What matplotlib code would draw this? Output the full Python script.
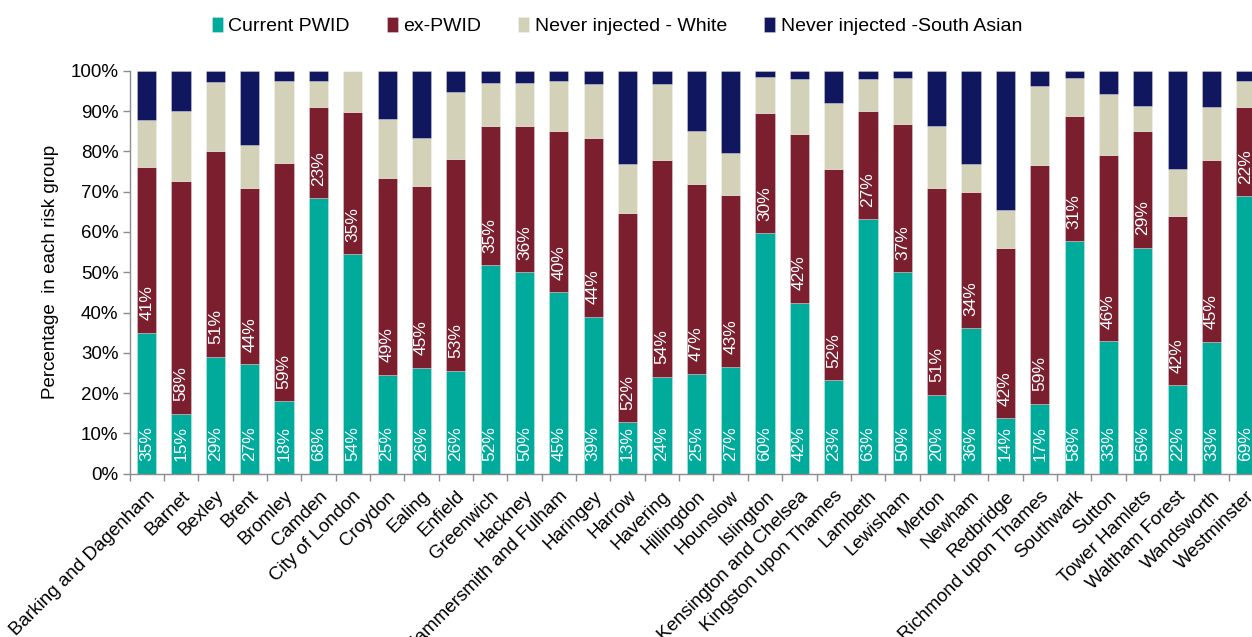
import matplotlib
matplotlib.use("Agg")
import matplotlib.pyplot as plt
import numpy as np

boroughs = ["Barking and Dagenham", "Barnet", "Bexley", "Brent", "Bromley", "Camden",
            "City of London", "Croydon", "Ealing", "Enfield", "Greenwich", "Hackney",
            "Hammersmith and Fulham", "Haringey", "Harrow", "Havering", "Hillingdon",
            "Hounslow", "Islington", "Kensington and Chelsea", "Kingston upon Thames",
            "Lambeth", "Lewisham", "Merton", "Newham", "Redbridge", "Richmond upon Thames",
            "Southwark", "Sutton", "Tower Hamlets", "Waltham Forest", "Wandsworth", "Westminster"]

current_pwid = [35, 14.9, 29, 27.2, 18, 68.4, 54.4, 24.6, 26.3, 25.6, 51.7, 50, 45, 39, 12.8,
                24, 24.8, 26.6, 59.7, 42.4, 23.2, 63.1, 50, 19.6, 36.1, 13.8, 17.4, 57.7,
                32.9, 56.1, 21.9, 32.8, 68.9]
ex_pwid = [41, 57.7, 51, 43.8, 59, 22.6, 35.3, 48.7, 45.2, 52.6, 34.6, 36.3, 40.1, 44.2, 51.9,
           53.9, 47.2, 42.6, 29.7, 41.9, 52.5, 26.9, 36.8, 51.4, 33.9, 42.2, 59.3, 31.1,
           46.3, 28.9, 42.1, 45, 22.1]
never_white = [11.8, 17.3, 17.3, 10.5, 20.4, 6.5, 10.3, 14.6, 11.7, 16.6, 10.6, 10.7, 12.3,
               13.6, 12.1, 18.7, 13, 10.3, 9, 13.6, 16.3, 8, 11.4, 15.4, 6.9, 9.4, 19.5, 9.4,
               15, 6.2, 11.7, 13.2, 6.5]
never_south_asian = [12.2, 10.1, 2.7, 18.5, 2.6, 2.5, 0, 12.1, 16.8, 5.2, 3.1, 3.0, 2.6, 3.2,
                     23.2, 3.4, 15, 20.5, 1.6, 2.1, 8.0, 2, 1.8, 13.6, 23.1, 34.6, 3.8, 1.8,
                     5.8, 8.8, 24.3, 9.0, 2.5]

series_names = ["Current PWID", "ex-PWID", "Never injected - White", "Never injected -South Asian"]
colors = ["#00AB9C", "#7B1F2E", "#D3D1B8", "#11175E"]

plt.rcParams['font.family'] = ['Liberation Sans', 'DejaVu Sans']

data = np.array([current_pwid, ex_pwid, never_white, never_south_asian], dtype=float)
data = data / data.sum(axis=0) * 100.0

fig = plt.figure(figsize=(12.52, 6.37), dpi=100)
W, H = 1252, 637
left_px, right_px = 129.5, 129.5 + 33 * 34.35
top_px, bot_px = 70.7, 473.7
ax = fig.add_axes([left_px / W, 1 - bot_px / H, (right_px - left_px) / W, (bot_px - top_px) / H])

x = np.arange(len(boroughs))
bottom = np.zeros(len(boroughs))
bars = []
for vals, name, c in zip(data, series_names, colors):
    b = ax.bar(x, vals, 0.56, bottom=bottom, color=c, label=name,
               edgecolor=(1, 1, 1, 0.5), linewidth=0.4)
    bars.append(b)
    bottom = bottom + vals

# data labels for current and ex PWID (inside base)
for i in range(len(boroughs)):
    ax.annotate(f"{current_pwid[i]:.0f}%", (x[i], 0), xytext=(0, 9), textcoords="offset points",
                rotation=90, ha="center", va="bottom", color="white", fontsize=12.5)
    ax.annotate(f"{ex_pwid[i]:.0f}%", (x[i], data[0][i]), xytext=(0, 9), textcoords="offset points",
                rotation=90, ha="center", va="bottom", color="white", fontsize=12.5)

ax.set_xlim(-0.5, len(boroughs) - 0.5)
ax.set_ylim(0, 100)
ax.set_yticks(np.arange(0, 101, 10))
ax.set_yticklabels([f"{v}%" for v in range(0, 101, 10)], fontsize=13.5)
ax.set_xticks(x)
ax.set_xticklabels(boroughs, rotation=45, ha="right", rotation_mode="anchor", fontsize=13.5)
ax.set_xticks(np.arange(-0.5, len(boroughs), 1), minor=True)
ax.tick_params(axis="x", which="major", length=0, pad=10)
ax.tick_params(axis="x", which="minor", length=5, color="#8C8C8C", width=1)
ax.tick_params(axis="y", length=5, color="#8C8C8C", width=1, pad=3)

for s in ["top", "right"]:
    ax.spines[s].set_visible(False)
for s in ["left", "bottom"]:
    ax.spines[s].set_color("#8C8C8C")
    ax.spines[s].set_linewidth(1)

ax.set_ylabel("Percentage  in each risk group", fontsize=13.5, labelpad=8)

fig.legend(handles=bars, labels=series_names, loc="center", bbox_to_anchor=(617 / W, 1 - 26 / H),
           ncol=4, frameon=False, fontsize=14, handlelength=0.55, handleheight=0.8,
           handletextpad=0.3, columnspacing=1.9)

fig.savefig("out.png", dpi=100)
